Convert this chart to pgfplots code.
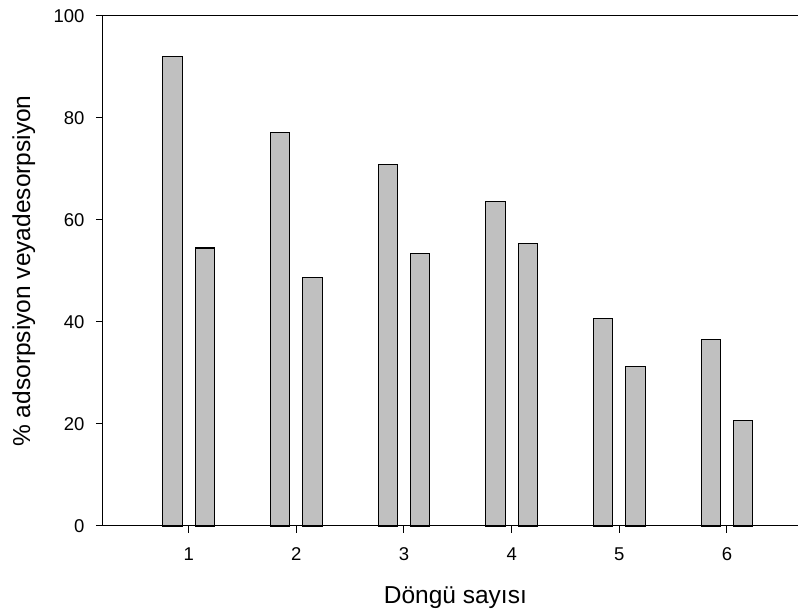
\documentclass[border=0pt]{standalone}
\usepackage{pgfplots}
\pgfplotsset{compat=1.18}
\usepackage{fontspec}
\setmainfont{Liberation Sans}

\definecolor{barfill}{RGB}{192,192,192}

\begin{document}
\begin{tikzpicture}
\begin{axis}[
  scale only axis,
  width=695pt, height=510pt,
  xmin=0.204, xmax=6.66,
  ymin=0, ymax=100,
  axis lines*=left,
  axis line style={line width=1pt},
  tick align=outside,
  tick style={black, line width=1pt},
  major tick length=7pt,
  xtick={1,2,3,4,5,6},
  ytick={0,20,40,60,80,100},
  /pgf/number format/assume math mode=true,
  tick label style={font=\fontsize{18.5}{20}\selectfont},
  xticklabel style={yshift=-11pt},
  yticklabel style={xshift=-8pt},
  label style={font=\fontsize{24.5}{27}\selectfont},
  xlabel={Döngü sayısı},
  xlabel style={at={(axis description cs:0.507,-0.151)}, anchor=base},
  ylabel={\% adsorpsiyon veyadesorpsiyon},
  ylabel style={at={(axis description cs:-0.105,0.5)}, anchor=base, rotate=0},
  ybar,
  bar width=0.18,
  clip=false,
]
\addplot[fill=barfill, draw=black, line width=1.1pt, bar shift=-0.15]
  coordinates {(1,92.0) (2,77.1) (3,70.9) (4,63.6) (5,40.6) (6,36.6)};
\addplot[fill=barfill, draw=black, line width=1.1pt, bar shift=0.15]
  coordinates {(1,54.5) (2,48.8) (3,53.5) (4,55.4) (5,31.2) (6,20.6)};
\draw[line width=1pt] (rel axis cs:0,1) -- (rel axis cs:1,1);
\end{axis}
\path[use as bounding box] (current axis.south west) ++(-103pt,-86pt) rectangle ([shift={(5pt,16pt)}]current axis.north east);
\end{tikzpicture}
\end{document}
